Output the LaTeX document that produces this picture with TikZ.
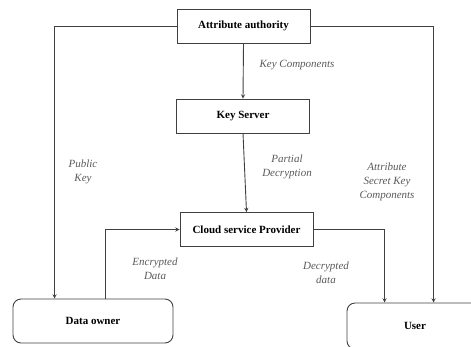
\documentclass[tikz,border=0pt]{standalone}
\usepackage{fontspec}
\setmainfont{Liberation Serif}
\begin{document}
\begin{tikzpicture}[>=stealth,x=1pt,y=-1pt,
	box/.style={draw=black!75,line width=0.9pt,minimum width=133pt,minimum height=34pt,font=\fontsize{11}{13}\selectfont\bfseries},
	party/.style={box,rounded corners=8pt,minimum width=160pt,minimum height=44pt},
	lbl/.style={text=black!65,align=center,font=\fontsize{11}{14}\selectfont\itshape},
	flow/.style={draw=black!75,line width=0.9pt,->}]
		\clip (0,0) rectangle (471,346);
		\node[box] (aa) at (243.5,26) {Attribute authority};
		\node[box] (ks) at (243,116) {Key Server};
		\node[box] (csp) at (246.5,229.5) {Cloud service Provider};
		\node[party] (own) at (93,321) {Data owner};
		\node[party,minimum width=136pt,minimum height=46pt] (usr) at (415,326) {User};
		\draw[flow] (aa.west) -| ([xshift=42pt]own.north west);
		\draw[flow] (aa.east) -| ([xshift=87pt]usr.north west);
		\draw[flow] (aa.south) -- (ks.north);
		\draw[flow] (ks.south) -- (csp.north);
		\draw[flow] ([xshift=93pt]own.north west) |- (csp.west);
		\draw[flow] (csp.east) -| ([xshift=38pt]usr.north west);
		\node[lbl] at (297,65) {Key Components};
		\node[lbl] at (83,172) {Public\\Key};
		\node[lbl] at (287,167) {Partial\\Decryption};
		\node[lbl] at (387,182) {Attribute\\Secret Key\\Components};
		\node[lbl] at (155,269) {Encrypted\\Data};
		\node[lbl] at (326,273) {Decrypted\\data};
\end{tikzpicture}
\end{document}
